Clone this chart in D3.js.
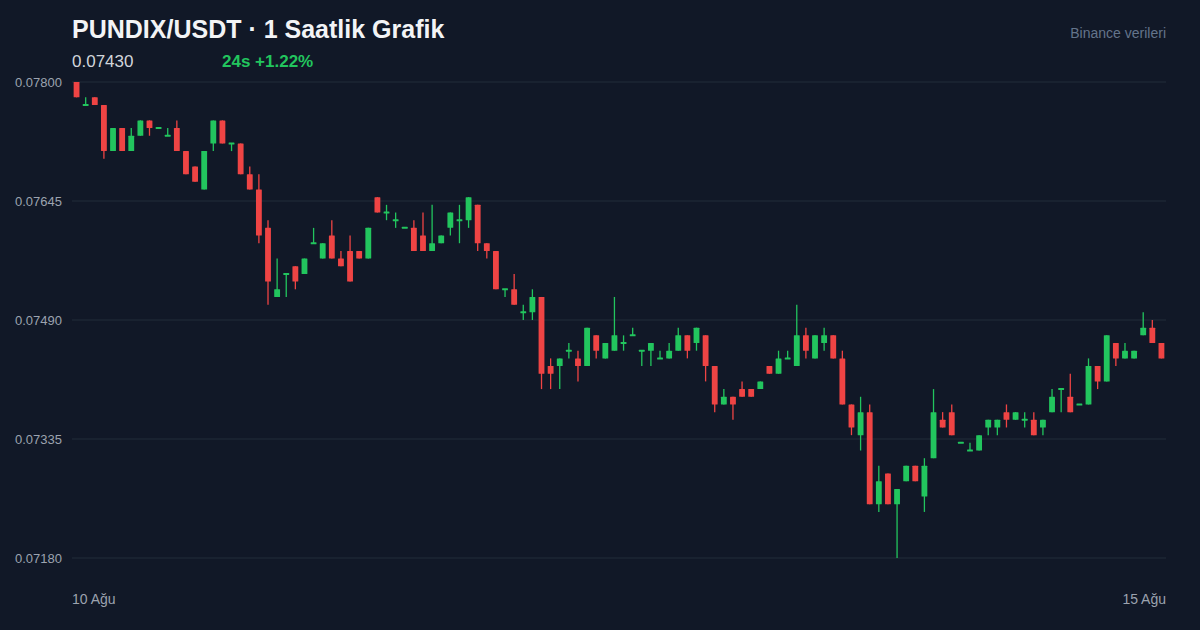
<!DOCTYPE html>
<html>
<head>
<meta charset="utf-8">
<script src="https://cdn.jsdelivr.net/npm/d3@7"></script>
<style>
  html, body { margin: 0; padding: 0; background: #111827; }
  svg { display: block; font-family: "Liberation Sans", Arial, sans-serif; }
</style>
</head>
<body>
<div id="chart"></div>
<script>
// PUNDIX/USDT hourly candles, 10 Ağu -> 15 Ağu (120 bars)
const open = [0.0780,0.0777,0.0778,0.0777,0.0771,0.0774,0.0771,0.0773,0.0775,0.0774,
  0.0773,0.0774,0.0771,0.0769,0.0766,0.0772,0.0775,0.0772,0.0772,0.0768,
  0.0766,0.0761,0.0752,0.0755,0.0756,0.0755,0.0759,0.0757,0.0760,0.0757,
  0.0758,0.0758,0.0757,0.0765,0.0763,0.0762,0.0761,0.0761,0.0760,0.0758,
  0.0759,0.0761,0.0762,0.0762,0.0764,0.0759,0.0758,0.0753,0.0753,0.0750,
  0.0750,0.0752,0.0743,0.0743,0.0745,0.0744,0.0743,0.0747,0.0744,0.0745,
  0.0746,0.0747,0.0745,0.0745,0.0744,0.0744,0.0745,0.0747,0.0746,0.0747,
  0.0743,0.0738,0.0739,0.0740,0.0740,0.0740,0.0743,0.0742,0.0744,0.0743,
  0.0747,0.0744,0.0746,0.0747,0.0744,0.0738,0.0734,0.0737,0.0725,0.0729,
  0.0725,0.0728,0.0730,0.0726,0.0731,0.0736,0.0737,0.0733,0.0732,0.0732,
  0.0735,0.0735,0.0737,0.0736,0.0736,0.0736,0.0735,0.0737,0.0740,0.0739,
  0.0738,0.0738,0.0743,0.0741,0.0746,0.0744,0.0744,0.0747,0.0748,0.0746];

const close = [0.0778,0.0777,0.0777,0.0771,0.0774,0.0771,0.0773,0.0775,0.0774,0.0774,
  0.0773,0.0771,0.0768,0.0767,0.0771,0.0775,0.0772,0.0772,0.0768,0.0766,
  0.0760,0.0754,0.0753,0.0755,0.0754,0.0757,0.0759,0.0759,0.0757,0.0756,
  0.0754,0.0757,0.0761,0.0763,0.0763,0.0762,0.0761,0.0758,0.0758,0.0759,
  0.0760,0.0763,0.0762,0.0765,0.0759,0.0758,0.0753,0.0753,0.0751,0.0750,
  0.0752,0.0742,0.0742,0.0744,0.0745,0.0743,0.0748,0.0745,0.0746,0.0747,
  0.0746,0.0747,0.0745,0.0746,0.0744,0.0745,0.0747,0.0745,0.0748,0.0743,
  0.0738,0.0739,0.0738,0.0739,0.0739,0.0741,0.0742,0.0744,0.0744,0.0747,
  0.0745,0.0747,0.0747,0.0744,0.0738,0.0735,0.0737,0.0725,0.0728,0.0725,
  0.0727,0.0730,0.0728,0.0730,0.0737,0.0735,0.0734,0.0733,0.0732,0.0734,
  0.0736,0.0736,0.0736,0.0737,0.0736,0.0734,0.0736,0.0739,0.0740,0.0737,
  0.0738,0.0743,0.0741,0.0747,0.0744,0.0745,0.0745,0.0748,0.0746,0.0744];

const high = [0.0780,0.0778,0.0778,0.0777,0.0774,0.0774,0.0774,0.0775,0.0775,0.0774,
  0.0774,0.0775,0.0771,0.0769,0.0771,0.0775,0.0775,0.0772,0.0772,0.0769,
  0.0768,0.0762,0.0757,0.0755,0.0756,0.0757,0.0761,0.0759,0.0762,0.0758,
  0.0760,0.0758,0.0761,0.0765,0.0764,0.0763,0.0761,0.0762,0.0763,0.0764,
  0.0760,0.0763,0.0764,0.0765,0.0764,0.0759,0.0758,0.0753,0.0755,0.0751,
  0.0753,0.0752,0.0744,0.0744,0.0746,0.0745,0.0748,0.0747,0.0746,0.0752,
  0.0747,0.0748,0.0745,0.0746,0.0745,0.0746,0.0748,0.0747,0.0748,0.0747,
  0.0743,0.0740,0.0739,0.0741,0.0740,0.0741,0.0743,0.0745,0.0745,0.0751,
  0.0748,0.0747,0.0748,0.0747,0.0745,0.0738,0.0739,0.0738,0.0730,0.0729,
  0.0727,0.0730,0.0730,0.0731,0.0740,0.0737,0.0738,0.0733,0.0733,0.0734,
  0.0736,0.0736,0.0738,0.0737,0.0737,0.0737,0.0736,0.0740,0.0740,0.0742,
  0.0738,0.0744,0.0743,0.0747,0.0746,0.0746,0.0745,0.0750,0.0749,0.0746];

const low = [0.0778,0.0777,0.0777,0.0770,0.0771,0.0771,0.0771,0.0773,0.0773,0.0774,
  0.0773,0.0771,0.0768,0.0767,0.0766,0.0771,0.0772,0.0771,0.0768,0.0766,
  0.0759,0.0751,0.0752,0.0752,0.0753,0.0755,0.0759,0.0757,0.0757,0.0756,
  0.0754,0.0757,0.0757,0.0763,0.0762,0.0761,0.0761,0.0758,0.0758,0.0758,
  0.0759,0.0760,0.0759,0.0761,0.0758,0.0757,0.0753,0.0752,0.0751,0.0749,
  0.0749,0.0740,0.0740,0.0740,0.0744,0.0741,0.0743,0.0744,0.0744,0.0745,
  0.0745,0.0747,0.0743,0.0743,0.0744,0.0744,0.0745,0.0744,0.0745,0.0741,
  0.0737,0.0738,0.0736,0.0739,0.0739,0.0740,0.0742,0.0742,0.0744,0.0743,
  0.0744,0.0744,0.0745,0.0744,0.0738,0.0734,0.0732,0.0725,0.0724,0.0725,
  0.0718,0.0728,0.0728,0.0724,0.0731,0.0735,0.0734,0.0733,0.0732,0.0732,
  0.0734,0.0734,0.0735,0.0736,0.0735,0.0734,0.0734,0.0737,0.0737,0.0737,
  0.0738,0.0738,0.0740,0.0741,0.0743,0.0744,0.0744,0.0747,0.0746,0.0744];

const yTicks = [0.07180, 0.07335, 0.07490, 0.07645, 0.07800];
const xLabels = ["10 Ağu", "15 Ağu"];

const W = 1200, H = 630;
const margin = {top: 82, right: 34, bottom: 72, left: 72};

const svg = d3.select("#chart")
  .append("svg")
  .attr("width", W)
  .attr("height", H);

svg.append("rect").attr("width", W).attr("height", H).attr("fill", "#111827");

const data = open.map(function(o, i) {
  return {i: i, o: o, c: close[i], h: high[i], l: low[i]};
});

const x = d3.scaleBand()
  .domain(data.map(d => d.i))
  .range([margin.left, W - margin.right])
  .paddingInner(0.36)
  .paddingOuter(0.18);

const y = d3.scaleLinear()
  .domain([0.0718, 0.0780])
  .range([H - margin.bottom, margin.top]);

// grid
svg.append("g")
  .selectAll("line")
  .data(yTicks)
  .enter()
  .append("line")
  .attr("x1", margin.left)
  .attr("x2", W - margin.right)
  .attr("y1", d => y(d))
  .attr("y2", d => y(d))
  .attr("stroke", "#222c3b")
  .attr("stroke-width", 1);

// y axis labels
const yAxis = svg.append("g")
  .attr("transform", "translate(" + (margin.left - 7) + ",0)")
  .call(d3.axisLeft(y).tickValues(yTicks).tickSize(0).tickFormat(d3.format(".5f")));
yAxis.select(".domain").remove();
yAxis.selectAll("text")
  .attr("fill", "#9ca3af")
  .style("font-size", "13px")
  .style("font-family", "Liberation Sans, Arial, sans-serif");

// candles
const up = "#22c55e", down = "#ef4444";
const candle = svg.append("g")
  .selectAll("g")
  .data(data)
  .enter()
  .append("g")
  .attr("fill", d => d.c >= d.o ? up : down)
  .attr("stroke", d => d.c >= d.o ? up : down);

candle.append("line")
  .attr("x1", d => x(d.i) + x.bandwidth() / 2)
  .attr("x2", d => x(d.i) + x.bandwidth() / 2)
  .attr("y1", d => y(d.h))
  .attr("y2", d => y(d.l))
  .attr("stroke-width", 1.3);

candle.append("rect")
  .attr("x", d => x(d.i))
  .attr("width", x.bandwidth())
  .attr("y", d => y(Math.max(d.o, d.c)) - (d.o === d.c ? 1 : 0))
  .attr("height", d => Math.max(2, Math.abs(y(d.o) - y(d.c))))
  .attr("stroke", "none")
  .attr("rx", 0.5);

// x labels
svg.append("text")
  .attr("x", margin.left)
  .attr("y", 604)
  .attr("fill", "#9ca3af")
  .style("font-size", "14px")
  .text(xLabels[0]);

svg.append("text")
  .attr("x", W - margin.right)
  .attr("y", 604)
  .attr("text-anchor", "end")
  .attr("fill", "#9ca3af")
  .style("font-size", "14px")
  .text(xLabels[1]);

// header
svg.append("text")
  .attr("x", 72)
  .attr("y", 38)
  .attr("fill", "#f3f4f6")
  .style("font-size", "25px")
  .style("font-weight", "bold")
  .text("PUNDIX/USDT · 1 Saatlik Grafik");

svg.append("text")
  .attr("x", 72)
  .attr("y", 67)
  .attr("fill", "#d1d5db")
  .style("font-size", "17px")
  .text("0.07430");

svg.append("text")
  .attr("x", 222)
  .attr("y", 67)
  .attr("fill", "#22c55e")
  .style("font-size", "17px")
  .style("font-weight", "bold")
  .text("24s +1.22%");

svg.append("text")
  .attr("x", W - margin.right)
  .attr("y", 38)
  .attr("text-anchor", "end")
  .attr("fill", "#64748b")
  .style("font-size", "14px")
  .text("Binance verileri");
</script>
</body>
</html>
